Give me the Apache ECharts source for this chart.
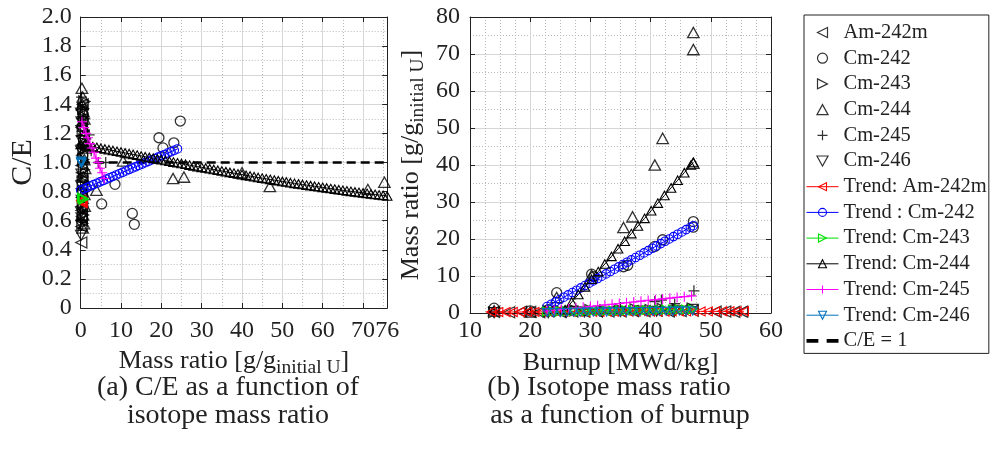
<!DOCTYPE html>
<html><head><meta charset="utf-8">
<script src="https://cdn.jsdelivr.net/npm/echarts@6/dist/echarts.min.js"></script>
<style>html,body{margin:0;padding:0;background:#fff}#c{width:991px;height:451px}</style>
</head><body><div id="c"></div>
<script>
// ---------- tick labels ----------
const ceTicks = [0, 0.2, 0.4, 0.6, 0.8, 1.0, 1.2, 1.4, 1.6, 1.8, 2.0];
const massTicksA = [0, 10, 20, 30, 40, 50, 60, 70, 76];
const burnupTicks = [10, 20, 30, 40, 50, 60];
const massTicksB = [0, 10, 20, 30, 40, 50, 60, 70, 80];

// ---------- (a) measured: [mass ratio, C/E] ----------
const am242m_CE = [[0.15,0.45],[0.2,0.56],[0.25,0.60],[0.3,0.63],[0.2,0.67],[0.35,0.70],[0.3,0.76],[0.25,0.82],[0.4,0.88],[0.3,0.93],[0.2,0.98],[0.35,1.05],[0.3,1.12],[0.45,1.18],[0.25,1.24],[0.4,1.30],[0.3,1.36],[0.5,1.40]];
const cm242_CE = [[0.3,0.62],[0.5,0.70],[0.4,0.80],[0.6,0.90],[0.5,1.05],[0.7,1.15],[0.4,1.25],[0.6,1.33],[5.2,0.715],[8.5,0.85],[12.8,0.65],[13.3,0.575],[19.4,1.17],[20.4,1.10],[23.1,1.135],[24.7,1.285]];
const cm243_CE = [[0.4,0.58],[0.6,0.64],[0.5,0.72],[0.7,0.80],[0.5,0.87],[0.8,0.95],[0.6,1.02],[0.7,1.09],[0.9,1.16],[0.5,1.22],[0.8,1.30],[0.6,1.37],[0.9,1.42]];
const cm244_CE = [[0.3,1.51],[0.5,1.45],[0.4,1.40],[0.7,1.35],[0.9,1.30],[0.6,1.25],[1.0,1.20],[0.8,1.14],[1.2,1.10],[0.9,1.02],[1.1,0.96],[0.7,0.90],[1.3,0.85],[0.9,0.78],[1.0,0.70],[0.6,0.64],[0.8,0.58],[0.5,0.55],[3.9,0.81],[10.5,1.01],[22.9,0.89],[25.6,0.90],[40.0,0.93],[46.9,0.835],[71.2,0.815],[75.3,0.865]];
const cm245_CE = [[0.2,1.45],[0.4,1.38],[0.6,1.30],[2.1,1.19],[0.5,1.10],[2.6,1.08],[4.4,1.00],[6.2,1.00],[0.3,0.90],[0.5,0.68],[0.3,0.60]];
const cm246_CE = [[0.1,0.50],[0.15,0.57],[0.2,0.62],[0.1,0.66],[0.25,0.74],[0.15,0.84],[0.2,0.92],[0.1,1.08],[0.25,1.15],[0.15,1.22],[0.2,1.28],[0.1,1.34]];

// ---------- (a) trends: [mass ratio, C/E] ----------
const am242mTrend_CE = [[0.1,0.74],[0.2,0.735],[0.3,0.73],[0.4,0.725],[0.5,0.72]];
const cm242Trend_CE = [[0,0.810],[0.8,0.819],[1.6,0.829],[2.4,0.838],[3.2,0.848],[4.0,0.857],[4.8,0.867],[5.6,0.876],[6.4,0.886],[7.2,0.895],[8.0,0.904],[8.8,0.914],[9.6,0.923],[10.4,0.933],[11.2,0.942],[12.0,0.952],[12.8,0.961],[13.6,0.970],[14.4,0.980],[15.2,0.989],[16.0,0.999],[16.8,1.008],[17.6,1.018],[18.4,1.027],[19.2,1.037],[20.0,1.046],[20.8,1.055],[21.6,1.065],[22.4,1.074],[23.2,1.084],[24.0,1.093]];
const cm243Trend_CE = [[0.3,0.76],[0.45,0.755],[0.6,0.75],[0.75,0.745]];
const cm244Trend_CE = [[0,1.125],[1,1.120],[2,1.115],[3,1.109],[4,1.104],[5,1.098],[6,1.093],[7,1.088],[8,1.083],[9,1.077],[10,1.072],[11,1.066],[12,1.061],[13,1.056],[14,1.051],[15,1.045],[16,1.040],[17,1.035],[18,1.030],[19,1.024],[20,1.019],[21,1.014],[22,1.009],[23,1.003],[24,0.998],[25,0.993],[26,0.988],[27,0.982],[28,0.977],[29,0.972],[30,0.967],[31,0.962],[32,0.957],[33,0.952],[34,0.947],[35,0.942],[36,0.937],[37,0.932],[38,0.927],[39,0.922],[40,0.917],[41,0.912],[42,0.907],[43,0.902],[44,0.897],[45,0.893],[46,0.888],[47,0.884],[48,0.879],[49,0.875],[50,0.870],[51,0.866],[52,0.861],[53,0.857],[54,0.853],[55,0.849],[56,0.845],[57,0.841],[58,0.837],[59,0.833],[60,0.829],[61,0.825],[62,0.821],[63,0.817],[64,0.813],[65,0.809],[66,0.805],[67,0.802],[68,0.798],[69,0.795],[70,0.791],[71,0.788],[72,0.784],[73,0.781],[74,0.777],[75,0.774],[76,0.770]];
const cm245Trend_CE = [[0.3,1.28],[0.8,1.24],[1.3,1.20],[1.8,1.17],[2.3,1.13],[2.8,1.10],[3.3,1.07],[3.8,1.03],[4.3,1.00],[4.8,0.96],[5.3,0.93],[5.8,0.89]];
const cm246Trend_CE = [[0.05,1.01],[0.1,1.005],[0.15,1.0],[0.2,0.995]];
const ceOne = [[0,1],[76,1]];

// ---------- (b) measured: [burnup, mass ratio] ----------
const am242m_BU = [[14,0.30],[16.5,0.20],[18.5,0.35],[20,0.30],[21.5,0.25],[23,0.40],[25,0.30],[27,0.45],[29,0.35],[31,0.50],[33,0.40],[35,0.45],[37,0.55],[39,0.50],[41,0.60],[43,0.45],[45,0.55],[47,0.60],[50.8,0.35],[52.4,0.40],[53.9,0.30],[55.2,0.35]];
const cm242_BU = [[14,1.3],[20,0.6],[23,0.9],[24.4,5.5],[30.2,10.5],[30.6,9.8],[35.5,12.5],[36.2,12.9],[40.7,18.0],[42.0,19.8],[47.1,24.7],[47.1,23.2]];
const cm243_BU = [[14,0.2],[23,0.5],[25,0.6],[27.5,0.7],[30,0.8],[32.5,0.7],[35,0.9],[37.5,1.0],[40,0.8],[42,1.1],[44.5,1.0],[47,1.2]];
const cm244_BU = [[14,0.6],[20,0.3],[24.4,4.2],[30.2,10.2],[35.5,23.1],[37,26.0],[40.7,40.0],[42.0,47.2],[47.1,75.8],[47.1,71.2],[47.1,40.5]];
const cm245_BU = [[14,0.3],[23,0.6],[30,1.0],[35,1.5],[40.7,3.1],[41.8,3.5],[44,2.5],[47.2,6.0]];
const cm246_BU = [[14,0.1],[23,0.1],[26,0.2],[29,0.3],[32,0.25],[35,0.4],[38,0.5],[41,0.45],[44,0.6],[47,1.0]];

// ---------- (b) trends: [burnup, mass ratio] ----------
const am242mTrend_BU = [[13.5,0.25],[14.7,0.26],[15.9,0.26],[17.1,0.27],[18.3,0.27],[19.5,0.28],[20.7,0.29],[21.9,0.29],[23.1,0.30],[24.3,0.31],[25.5,0.31],[26.7,0.32],[27.9,0.32],[29.1,0.33],[30.3,0.34],[31.5,0.34],[32.7,0.35],[33.9,0.36],[35.1,0.36],[36.3,0.37],[37.5,0.37],[38.7,0.38],[39.9,0.39],[41.1,0.39],[42.3,0.40],[43.5,0.41],[44.7,0.41],[45.9,0.42],[47.1,0.42],[48.3,0.43],[49.5,0.44],[50.7,0.44],[51.9,0.45],[53.1,0.46],[54.3,0.46],[55.5,0.47]];
const cm242Trend_BU = [[22.8,1.75],[23.5,2.38],[24.2,3.01],[24.9,3.64],[25.6,4.27],[26.3,4.90],[27.0,5.53],[27.7,6.16],[28.4,6.79],[29.1,7.42],[29.8,8.05],[30.5,8.68],[31.2,9.31],[31.9,9.94],[32.6,10.57],[33.3,11.20],[34.0,11.83],[34.7,12.46],[35.4,13.09],[36.1,13.72],[36.8,14.35],[37.5,14.98],[38.2,15.61],[38.9,16.24],[39.6,16.87],[40.3,17.50],[41.0,18.13],[41.7,18.76],[42.4,19.39],[43.1,20.02],[43.8,20.65],[44.5,21.28],[45.2,21.91],[45.9,22.54],[46.6,23.17],[47.1,23.60]];
const cm243Trend_BU = [[22.8,0.40],[23.9,0.43],[25.0,0.46],[26.1,0.48],[27.2,0.51],[28.3,0.54],[29.4,0.57],[30.5,0.59],[31.6,0.62],[32.7,0.65],[33.8,0.67],[34.9,0.70],[36.0,0.73],[37.1,0.76],[38.2,0.78],[39.3,0.81],[40.4,0.84],[41.5,0.86],[42.6,0.89],[43.7,0.92],[44.8,0.95],[45.9,0.97],[47.0,1.00]];
const cm244Trend_BU = [[25.8,0.90],[26.9,2.96],[28.0,5.01],[29.1,7.07],[30.2,9.13],[31.3,11.19],[32.4,13.24],[33.5,15.30],[34.6,17.36],[35.7,19.41],[36.8,21.47],[37.9,23.53],[39.0,25.58],[40.1,27.64],[41.2,29.70],[42.3,31.76],[43.4,33.81],[44.5,35.87],[45.6,37.93],[46.7,39.99],[47.1,40.70]];
const cm245Trend_BU = [[22.8,0.54],[24.0,0.75],[25.2,0.95],[26.4,1.16],[27.6,1.36],[28.8,1.56],[30.0,1.77],[31.2,1.97],[32.4,2.18],[33.6,2.38],[34.8,2.58],[36.0,2.79],[37.2,2.99],[38.4,3.20],[39.6,3.40],[40.8,3.60],[42.0,3.81],[43.2,4.01],[44.4,4.22],[45.6,4.42],[46.8,4.62]];
const cm246Trend_BU = [[22.8,0.10],[23.9,0.12],[25.0,0.14],[26.1,0.16],[27.2,0.18],[28.3,0.20],[29.4,0.22],[30.5,0.24],[31.6,0.26],[32.7,0.28],[33.8,0.30],[34.9,0.32],[36.0,0.34],[37.1,0.36],[38.2,0.38],[39.3,0.40],[40.4,0.42],[41.5,0.44],[42.6,0.46],[43.7,0.48],[44.8,0.50],[45.9,0.52],[47.0,0.54]];

// ---------- styling ----------
const FONT = 'Liberation Serif';
const INK = '#222';
const SYM = {
  left: 'path://M10,0L0,5L10,10Z',
  right: 'path://M0,0L10,5L0,10Z',
  up: 'path://M5,0L10,9L0,9Z',
  down: 'path://M0,0L10,0L5,9Z',
  plus: 'path://M5,0L5,10M0,5L10,5',
  circle: 'path://M5,0A5,5,0,1,1,4.999,0Z'
};
const HOLLOW = 'rgba(0,0,0,0)';

const measuredDefs = [
  ['Am-242m', SYM.left, 11, am242m_CE, am242m_BU],
  ['Cm-242', SYM.circle, 10, cm242_CE, cm242_BU],
  ['Cm-243', SYM.right, 11, cm243_CE, cm243_BU],
  ['Cm-244', SYM.up, 11.5, cm244_CE, cm244_BU],
  ['Cm-245', SYM.plus, 11, cm245_CE, cm245_BU],
  ['Cm-246', SYM.down, 11, cm246_CE, cm246_BU]
];
const trendDefs = [
  ['Trend: Am-242m', SYM.left, '#ff0000', 9, am242mTrend_CE, am242mTrend_BU],
  ['Trend : Cm-242', SYM.circle, '#0000ff', 8.5, cm242Trend_CE, cm242Trend_BU],
  ['Trend: Cm-243', SYM.right, '#00e000', 9, cm243Trend_CE, cm243Trend_BU],
  ['Trend: Cm-244', SYM.up, '#000000', 9.5, cm244Trend_CE, cm244Trend_BU],
  ['Trend: Cm-245', SYM.plus, '#ff00ff', 10, cm245Trend_CE, cm245Trend_BU],
  ['Trend: Cm-246', SYM.down, '#0072bd', 9, cm246Trend_CE, cm246Trend_BU]
];

const series = [];
const legendData = [];
measuredDefs.forEach(([name, sym, size, dL, dR]) => {
  const st = {color: HOLLOW, borderColor: '#000', borderWidth: 1.3};
  [[0, dL], [1, dR]].forEach(([i, d]) => series.push({
    type: 'scatter', name, xAxisIndex: i, yAxisIndex: i, data: d,
    symbol: sym, symbolSize: size, symbolKeepAspect: true, itemStyle: st, silent: true
  }));
  legendData.push({name, icon: sym, itemStyle: {color: HOLLOW, borderColor: '#000', borderWidth: 1.2}});
});
trendDefs.forEach(([name, sym, col, size, dL, dR]) => {
  const st = {color: HOLLOW, borderColor: col, borderWidth: 1.1};
  [[0, dL], [1, dR]].forEach(([i, d]) => series.push({
    type: 'line', name, xAxisIndex: i, yAxisIndex: i, data: d,
    symbol: sym, symbolSize: size, symbolKeepAspect: true, showSymbol: true, showAllSymbol: true,
    itemStyle: st, lineStyle: {color: col, width: 1}, silent: true
  }));
  legendData.push({name, itemStyle: st, lineStyle: {color: col, width: 1}});
});
series.push({
  type: 'line', name: 'C/E = 1', xAxisIndex: 0, yAxisIndex: 0, data: ceOne,
  symbol: 'none', lineStyle: {color: '#000', width: 2.6, type: [9, 5]},
  itemStyle: {color: '#000'}, silent: true
});
legendData.push({name: 'C/E = 1', icon: 'path://M0,0h10v3h-10z M17,0h10v3h-10z', itemStyle: {color: '#000', borderWidth: 0}});

const tickFont = {fontFamily: FONT, fontSize: 24, color: INK};
const major = {show: true, lineStyle: {color: '#d6d6d6', width: 1}};
const minor = {show: true, lineStyle: {color: '#b8b8b8', width: 1, type: [1, 2]}};
const axLine = {show: true, onZero: false, lineStyle: {color: INK, width: 1}};
const axTick = {show: true, inside: true, length: 5, lineStyle: {color: INK, width: 1}};
const subName = {
  rich: {
    m: {fontFamily: FONT, fontSize: 26, lineHeight: 30, verticalAlign: 'top', color: INK},
    s: {fontFamily: FONT, fontSize: 19.5, lineHeight: 19.5, verticalAlign: 'bottom', color: INK}
  }
};
function boxAxis(grid, pos, min, max, interval) {
  return {type: 'value', gridIndex: grid, position: pos, min, max, interval,
    axisLine: axLine, axisTick: axTick, axisLabel: {show: false}, splitLine: {show: false}};
}

const option = {
  animation: false,
  backgroundColor: '#fff',
  grid: [
    {left: 80.7, top: 17, width: 306.5, height: 291},
    {left: 470, top: 17, width: 301, height: 296}
  ],
  xAxis: [
    {type: 'value', gridIndex: 0, position: 'bottom', min: massTicksA[0], max: massTicksA[massTicksA.length - 1], interval: 10,
      name: '{m|Mass ratio [g/g}{s|initial U}{m|]}', nameLocation: 'middle', nameGap: 40, nameTextStyle: subName,
      axisLine: axLine, axisTick: axTick, axisLabel: Object.assign({margin: 11}, tickFont),
      splitLine: major, minorTick: {show: false, splitNumber: 2}, minorSplitLine: minor},
    {type: 'value', gridIndex: 1, position: 'bottom', min: burnupTicks[0], max: burnupTicks[burnupTicks.length - 1], interval: 10,
      name: 'Burnup [MWd/kg]', nameLocation: 'middle', nameGap: 35,
      nameTextStyle: {fontFamily: FONT, fontSize: 26, lineHeight: 30, color: INK},
      axisLine: axLine, axisTick: axTick, axisLabel: Object.assign({margin: 6}, tickFont),
      splitLine: major, minorTick: {show: false, splitNumber: 4}, minorSplitLine: minor},
    boxAxis(0, 'top', 0, 76, 10),
    boxAxis(1, 'top', 10, 60, 10)
  ],
  yAxis: [
    {type: 'value', gridIndex: 0, position: 'left', min: ceTicks[0], max: ceTicks[ceTicks.length - 1], interval: 0.2,
      name: 'C/E', nameLocation: 'middle', nameGap: 43,
      nameTextStyle: {fontFamily: FONT, fontSize: 30, lineHeight: 30, color: INK},
      axisLine: axLine, axisTick: axTick,
      axisLabel: Object.assign({margin: 9, formatter: v => (Math.abs(v) < 1e-9 ? '0' : v.toFixed(1))}, tickFont),
      splitLine: major, minorTick: {show: false, splitNumber: 2}, minorSplitLine: minor},
    {type: 'value', gridIndex: 1, position: 'left', min: massTicksB[0], max: massTicksB[massTicksB.length - 1], interval: 10,
      name: '{m|Mass ratio [g/g}{s|initial U}{m|]}', nameLocation: 'middle', nameGap: 42, nameTextStyle: subName,
      axisLine: axLine, axisTick: axTick, axisLabel: Object.assign({margin: 10}, tickFont),
      splitLine: major, minorTick: {show: false, splitNumber: 2}, minorSplitLine: minor},
    boxAxis(0, 'right', 0, 2, 0.2),
    boxAxis(1, 'right', 0, 80, 10)
  ],
  legend: {
    orient: 'vertical', left: 804, top: 15, padding: [7, 2, 2, 2],
    itemWidth: 32, itemHeight: 10, itemGap: 4.7,
    borderColor: INK, borderWidth: 1, selectedMode: false,
    textStyle: {fontFamily: FONT, fontSize: 20.5, lineHeight: 20, color: INK},
    data: legendData
  },
  graphic: [
    {type: 'text', x: 228, y: 388, silent: true, style: {text: '(a) C/E as a function of', font: '28px "Liberation Serif"', fill: INK, align: 'center', verticalAlign: 'middle'}},
    {type: 'text', x: 228, y: 416, silent: true, style: {text: 'isotope mass ratio', font: '28px "Liberation Serif"', fill: INK, align: 'center', verticalAlign: 'middle'}},
    {type: 'text', x: 609, y: 388, silent: true, style: {text: '(b) Isotope mass ratio', font: '28px "Liberation Serif"', fill: INK, align: 'center', verticalAlign: 'middle'}},
    {type: 'text', x: 620, y: 416, silent: true, style: {text: 'as a function of burnup', font: '28px "Liberation Serif"', fill: INK, align: 'center', verticalAlign: 'middle'}}
  ],
  series
};
const chart = echarts.init(document.getElementById('c'), null, {renderer: 'canvas'});
chart.setOption(option);
</script>
</body></html>
